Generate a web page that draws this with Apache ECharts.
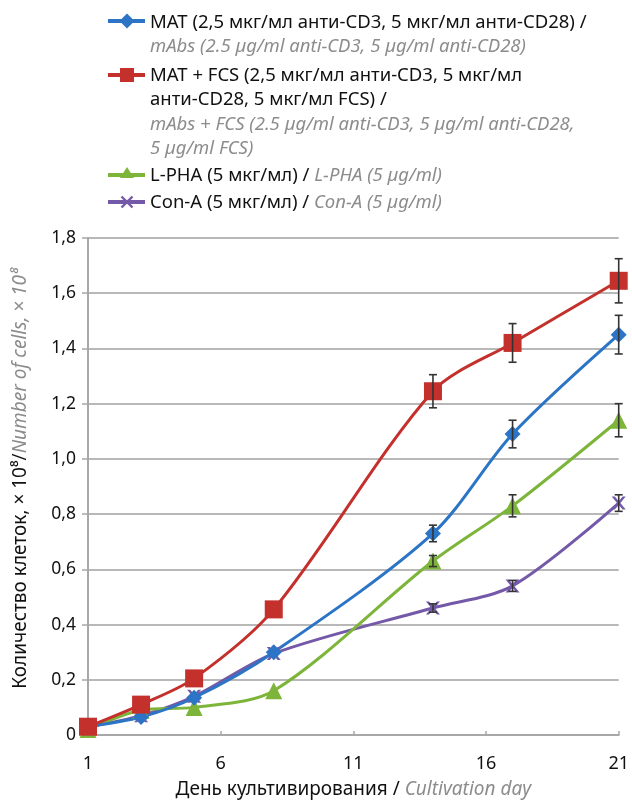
<!DOCTYPE html>
<html>
<head>
<meta charset="utf-8">
<script src="https://cdn.jsdelivr.net/npm/echarts@6/dist/echarts.min.js"></script>
<style>
  html, body { margin: 0; padding: 0; background: #fff; }
  #chart { width: 632px; height: 804px; }
</style>
</head>
<body>
<div id="chart"></div>
<script>
// Cultivation days at which cell counts were measured
const days = [1, 3, 5, 8, 14, 17, 21];

// Number of cells, ×10^8
const matValues    = [0.03, 0.065, 0.135, 0.30, 0.73, 1.09, 1.45];
const matFcsValues = [0.03, 0.11, 0.205, 0.455, 1.245, 1.42, 1.645];
const lphaValues   = [0.02, 0.09, 0.10, 0.16, 0.63, 0.83, 1.14];
const conAValues   = [0.03, 0.07, 0.14, 0.295, 0.46, 0.54, 0.84];

// Standard deviations (error bars)
const matErr    = [0, 0, 0, 0, 0.03, 0.05, 0.07];
const matFcsErr = [0, 0, 0, 0, 0.06, 0.07, 0.08];
const lphaErr   = [0, 0, 0, 0, 0.02, 0.04, 0.06];
const conAErr   = [0, 0, 0, 0, 0.015, 0.02, 0.03];

// Axis ticks
const yTicks = [0, 0.2, 0.4, 0.6, 0.8, 1.0, 1.2, 1.4, 1.6, 1.8];
const xTicks = [1, 6, 11, 16, 21];

const colors = {
  mat: '#2b74c6',
  matFcs: '#c4302b',
  lpha: '#7db53a',
  conA: '#7459a8'
};

const GRAY = '#8c8c8c';
const INK = '#111';
const FONT = '"Noto Sans", "DejaVu Sans", sans-serif';

const xSymbol = 'path://M0,0 L2.2,0 L5,3.2 L7.8,0 L10,0 L6.2,4.5 L10,9 L7.8,9 L5,5.8 L2.2,9 L0,9 L3.8,4.5 Z';

function pairs(xs, ys) {
  return xs.map((x, i) => [x, ys[i]]);
}
function errData(xs, ys, es) {
  return xs.map((x, i) => [x, ys[i], es[i]]).filter(d => d[2] > 0);
}

function errorBarSeries(xs, ys, es) {
  return {
    type: 'custom',
    z: 5,
    silent: true,
    data: errData(xs, ys, es),
    encode: { x: 0, y: 1 },
    renderItem: function (params, api) {
      const x = api.value(0), y = api.value(1), e = api.value(2);
      const top = api.coord([x, y + e]);
      const bot = api.coord([x, y - e]);
      const cap = 4;
      const st = { stroke: '#333', lineWidth: 1.6 };
      return {
        type: 'group',
        children: [
          { type: 'line', shape: { x1: top[0], y1: top[1], x2: bot[0], y2: bot[1] }, style: st },
          { type: 'line', shape: { x1: top[0] - cap, y1: top[1], x2: top[0] + cap, y2: top[1] }, style: st },
          { type: 'line', shape: { x1: bot[0] - cap, y1: bot[1], x2: bot[0] + cap, y2: bot[1] }, style: st }
        ]
      };
    }
  };
}

function lineSeries(name, values, color, symbol, size) {
  return {
    name: name,
    type: 'line',
    data: pairs(days, values),
    smooth: 0.3,
    symbol: symbol,
    symbolSize: size,
    showAllSymbol: true,
    lineStyle: { color: color, width: 3 },
    itemStyle: { color: color, borderWidth: 0 },
    z: 3
  };
}

// Legend drawn as graphic items: sample line with marker + multi-line caption
const legendRich = {
  b: { fontFamily: FONT, fontSize: 18.5, fill: INK, lineHeight: 24.5 },
  g: { fontFamily: FONT, fontSize: 18.5, fill: GRAY, fontStyle: 'italic', lineHeight: 24.5 }
};

function legendText(y, text) {
  return {
    type: 'text', x: 150, y: y,
    style: { text: text, rich: legendRich, fontFamily: FONT, fontSize: 18.5, verticalAlign: 'top', fill: INK }
  };
}
function legendLine(y, color) {
  return { type: 'line', shape: { x1: 108, y1: y, x2: 145, y2: y }, style: { stroke: color, lineWidth: 4 } };
}

const graphics = [];
// MAT
graphics.push(legendLine(21, colors.mat));
graphics.push({ type: 'polygon', shape: { points: [[127, 13.5], [134.5, 21], [127, 28.5], [119.5, 21]] }, style: { fill: colors.mat } });
graphics.push(legendText(10,
  '{b|MAT (2,5 мкг/мл анти-CD3, 5 мкг/мл анти-CD28) /}\n{g|mAbs (2.5 µg/ml anti-CD3, 5 µg/ml anti-CD28)}'));
// MAT + FCS
graphics.push(legendLine(75, colors.matFcs));
graphics.push({ type: 'rect', shape: { x: 120, y: 68, width: 14, height: 14 }, style: { fill: colors.matFcs } });
graphics.push(legendText(63,
  '{b|MAT + FCS (2,5 мкг/мл анти-CD3, 5 мкг/мл}\n{b|анти-CD28, 5 мкг/мл FCS) /}\n{g|mAbs + FCS (2.5 µg/ml anti-CD3, 5 µg/ml anti-CD28,}\n{g|5 µg/ml FCS)}'));
// L-PHA
graphics.push(legendLine(175, colors.lpha));
graphics.push({ type: 'polygon', shape: { points: [[127, 167], [134, 178], [120, 178]] }, style: { fill: colors.lpha } });
graphics.push(legendText(163, '{b|L-PHA (5 мкг/мл) / }{g|L-PHA (5 µg/ml)}'));
// Con-A
graphics.push(legendLine(202, colors.conA));
graphics.push({ type: 'line', shape: { x1: 121.5, y1: 196.5, x2: 132.5, y2: 207.5 }, style: { stroke: colors.conA, lineWidth: 2.4 } });
graphics.push({ type: 'line', shape: { x1: 132.5, y1: 196.5, x2: 121.5, y2: 207.5 }, style: { stroke: colors.conA, lineWidth: 2.4 } });
graphics.push(legendText(190, '{b|Con-A (5 мкг/мл) / }{g|Con-A (5 µg/ml)}'));

const chart = echarts.init(document.getElementById('chart'), null, { renderer: 'canvas' });

chart.setOption({
  animation: false,
  backgroundColor: '#fff',
  grid: { left: 88, right: 12, top: 238, bottom: 62, containLabel: false },
  xAxis: {
    type: 'value',
    min: xTicks[0],
    max: xTicks[xTicks.length - 1],
    interval: 5,
    name: 'День культивирования / {i|Cultivation day}',
    nameLocation: 'middle',
    nameGap: 45,
    nameTextStyle: {
      fontFamily: FONT, fontSize: 19, color: INK,
      rich: { i: { fontFamily: FONT, fontSize: 19, color: GRAY, fontStyle: 'italic' } }
    },
    axisLine: { show: true, lineStyle: { color: '#a8a8a8', width: 2 } },
    axisTick: { show: true, inside: true, length: 4, lineStyle: { color: '#a8a8a8', width: 1.5 } },
    splitLine: { show: false },
    axisLabel: { fontFamily: FONT, fontSize: 18, color: INK, margin: 20 }
  },
  yAxis: {
    type: 'value',
    min: yTicks[0],
    max: yTicks[yTicks.length - 1],
    interval: 0.2,
    name: 'Количество клеток, × 10⁸/{i|Number of cells, × 10⁸}',
    nameLocation: 'middle',
    nameGap: 58,
    nameTextStyle: {
      fontFamily: FONT, fontSize: 19, color: INK,
      padding: [0, 0, 0, 16],
      rich: { i: { fontFamily: FONT, fontSize: 19, color: GRAY, fontStyle: 'italic' } }
    },
    axisLine: { show: true, lineStyle: { color: '#a8a8a8', width: 2 } },
    axisTick: { show: true, length: 6, lineStyle: { color: '#a8a8a8', width: 1.5 } },
    splitLine: { show: true, lineStyle: { color: '#b8b8b8', width: 2 } },
    axisLabel: {
      fontFamily: FONT, fontSize: 17.5, color: INK, margin: 12,
      formatter: v => (Math.abs(v) < 1e-9 ? '0' : v.toFixed(1).replace('.', ','))
    }
  },
  graphic: graphics,
  series: [
    lineSeries('Con-A', conAValues, colors.conA, xSymbol, [14, 13]),
    lineSeries('L-PHA', lphaValues, colors.lpha, 'triangle', 17),
    lineSeries('MAT', matValues, colors.mat, 'diamond', 16),
    lineSeries('MAT + FCS', matFcsValues, colors.matFcs, 'rect', 18),
    errorBarSeries(days, conAValues, conAErr),
    errorBarSeries(days, lphaValues, lphaErr),
    errorBarSeries(days, matValues, matErr),
    errorBarSeries(days, matFcsValues, matFcsErr)
  ]
});
</script>
</body>
</html>
